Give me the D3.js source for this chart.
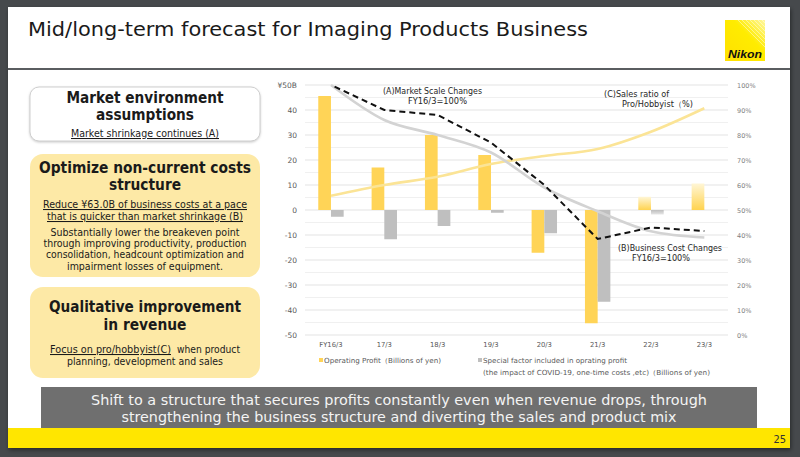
<!DOCTYPE html>
<html>
<head>
<meta charset="utf-8">
<script src="https://cdn.jsdelivr.net/npm/d3@7"></script>
<style>
  html, body { margin: 0; padding: 0; background: #46494c; }
  svg { display: block; }
</style>
</head>
<body>
<svg id="c" width="800" height="457"></svg>
<script>
// ---------------- DATA ----------------
const categories = ["FY16/3", "17/3", "18/3", "19/3", "20/3", "21/3", "22/3", "23/3"];
const operatingProfit = [45.6, 17, 30, 22, -17.1, -45.3, 5.3, 10.6];     // Billions of yen
const specialFactor  = [-2.7, -11.7, -6.4, -1.1, -9.3, -36.7, -1.8, 0];   // Billions of yen
const marketScale    = [100, 86, 80, 73, 59, 49.5, 41.5, 39];             // % (FY16/3=100)
const businessCost   = [100, 90, 88, 77, 60, 38.4, 43, 41.6];             // % (FY16/3=100)
const proRatio       = [55.7, 60, 63.3, 68.4, 71.6, 74.4, 81.3, 90.7];    // %
const forecastCats   = ["22/3", "23/3"];
const leftTicks  = [50, 40, 30, 20, 10, 0, -10, -20, -30, -40, -50];
const leftTickLabels = ["¥50B", "40", "30", "20", "10", "0", "-10", "-20", "-30", "-40", "-50"];
const rightTicks = [100, 90, 80, 70, 60, 50, 40, 30, 20, 10, 0];

// ---------------- SETUP ----------------
const svg = d3.select("#c");
const FONT = "'DejaVu Sans', Verdana, sans-serif";
const COND = "'DejaVu Sans Condensed', 'DejaVu Sans', sans-serif";

const defs = svg.append("defs");
const shadow = defs.append("filter").attr("id", "sh").attr("x", "-5%").attr("y", "-5%").attr("width", "110%").attr("height", "115%");
shadow.append("feDropShadow").attr("dx", 1).attr("dy", 2).attr("stdDeviation", 2).attr("flood-color", "#000").attr("flood-opacity", 0.45);
const boxSh = defs.append("filter").attr("id", "bsh").attr("x", "-5%").attr("y", "-5%").attr("width", "110%").attr("height", "115%");
boxSh.append("feDropShadow").attr("dx", 0).attr("dy", 1).attr("stdDeviation", 1).attr("flood-color", "#999").attr("flood-opacity", 0.5);

const gY = defs.append("linearGradient").attr("id", "gY").attr("x1", 0).attr("y1", 0).attr("x2", 0).attr("y2", 1);
gY.append("stop").attr("offset", "0%").attr("stop-color", "#fff6d6");
gY.append("stop").attr("offset", "100%").attr("stop-color", "#ffd34f");
const gG = defs.append("linearGradient").attr("id", "gG").attr("x1", 0).attr("y1", 0).attr("x2", 0).attr("y2", 1);
gG.append("stop").attr("offset", "0%").attr("stop-color", "#bdbdbd");
gG.append("stop").attr("offset", "100%").attr("stop-color", "#e6e6e6");
const gLogo = defs.append("linearGradient").attr("id", "gL").attr("x1", 0).attr("y1", 1).attr("x2", 1).attr("y2", 0);
gLogo.append("stop").attr("offset", "0%").attr("stop-color", "#ffe000");
gLogo.append("stop").attr("offset", "60%").attr("stop-color", "#ffec00");
gLogo.append("stop").attr("offset", "100%").attr("stop-color", "#fff7a0");

// slide
svg.append("rect").attr("x", 8).attr("y", 7).attr("width", 782).attr("height", 441)
  .attr("fill", "#ffffff").attr("filter", "url(#sh)");

// title
svg.append("text").attr("x", 28).attr("y", 36).attr("font-family", COND).attr("font-size", 20)
  .attr("fill", "#1a1a1a").attr("textLength", 560).attr("lengthAdjust", "spacingAndGlyphs")
  .text("Mid/long-term forecast for Imaging Products Business");

// header rule
svg.append("rect").attr("x", 8).attr("y", 68).attr("width", 782).attr("height", 2).attr("fill", "#5a5d60");

// Nikon logo
const logo = svg.append("g");
logo.append("rect").attr("x", 725).attr("y", 20).attr("width", 40).attr("height", 41).attr("fill", "url(#gL)");
for (let i = 0; i < 7; i++) {
  logo.append("line").attr("x1", 738 + i * 4).attr("y1", 20).attr("x2", 765).attr("y2", 47 - i * 4)
    .attr("stroke", "#ffffff").attr("stroke-opacity", 0.55).attr("stroke-width", 0.8);
}
logo.append("text").attr("x", 745).attr("y", 58).attr("text-anchor", "middle")
  .attr("font-family", "'Liberation Sans', Arial, sans-serif").attr("font-weight", "bold").attr("font-style", "italic")
  .attr("font-size", 10).attr("fill", "#111").attr("textLength", 34).attr("lengthAdjust", "spacingAndGlyphs").text("Nikon");

// ---------------- LEFT BOXES ----------------
svg.append("rect").attr("x", 30).attr("y", 87).attr("width", 230).attr("height", 54).attr("rx", 9)
  .attr("fill", "#ffffff").attr("stroke", "#cfcfcf").attr("stroke-width", 1).attr("filter", "url(#bsh)");
svg.append("rect").attr("x", 30).attr("y", 154).attr("width", 230).attr("height", 123).attr("rx", 13)
  .attr("fill", "#fde9a6");
svg.append("rect").attr("x", 30).attr("y", 287).attr("width", 230).attr("height", 91).attr("rx", 13)
  .attr("fill", "#fde9a6");

function line(y, s, size, len, bold, underline) {
  const t = svg.append("text").attr("x", 145).attr("y", y).attr("text-anchor", "middle")
    .attr("font-family", FONT).attr("font-size", size).attr("fill", "#1a1a1a")
    .attr("font-weight", bold ? "bold" : "normal")
    .attr("textLength", len).attr("lengthAdjust", "spacingAndGlyphs").text(s);
  if (underline) t.attr("text-decoration", "underline");
}
line(103, "Market environment", 15.5, 157, true);
line(120, "assumptions", 15.5, 98, true);
line(137, "Market shrinkage continues (A)", 10.5, 148, false, true);

line(173, "Optimize non-current costs", 15.5, 212, true);
line(190, "structure", 15.5, 72, true);
line(208, "Reduce ¥63.0B of business costs at a pace", 10.5, 204, false, true);
line(220, "that is quicker than market shrinkage (B)", 10.5, 196, false, true);
line(236, "Substantially lower the breakeven point", 10.5, 189);
line(247, "through improving productivity, production", 10.5, 203);
line(258, "consolidation, headcount optimization and", 10.5, 198);
line(270, "impairment losses of equipment.", 10.5, 156);

line(312, "Qualitative improvement", 15.5, 192, true);
line(330, "in revenue", 15.5, 83, true);
svg.append("text").attr("x", 50).attr("y", 353).attr("font-family", FONT).attr("font-size", 10.5)
  .attr("fill", "#1a1a1a").attr("text-decoration", "underline")
  .attr("textLength", 121).attr("lengthAdjust", "spacingAndGlyphs").text("Focus on pro/hobbyist(C)");
svg.append("text").attr("x", 177).attr("y", 353).attr("font-family", FONT).attr("font-size", 10.5)
  .attr("fill", "#1a1a1a")
  .attr("textLength", 63).attr("lengthAdjust", "spacingAndGlyphs").text("when product");
line(365, "planning, development and sales", 10.5, 156);

// ---------------- CHART ----------------
const yL = d3.scaleLinear().domain([-50, 50]).range([335, 85]);
const yR = d3.scaleLinear().domain([0, 100]).range([335, 85]);
const xC = d3.scalePoint().domain(categories).range([304.3, 731]).padding(0.5);
const barW = 12.7;
const gridX0 = 305, gridX1 = 728;

// gridlines every 5
const gridVals = d3.range(-50, 50.01, 5);
svg.append("g").selectAll("line").data(gridVals).join("line")
  .attr("x1", gridX0).attr("x2", gridX1)
  .attr("y1", d => yL(d)).attr("y2", d => yL(d))
  .attr("stroke", d => d % 10 === 0 ? "#dcdcdc" : "#ececec").attr("stroke-width", 0.8);

// left axis
const axL = svg.append("g").attr("transform", `translate(${gridX0},0)`)
  .call(d3.axisLeft(yL).tickValues(leftTicks).tickSize(0).tickPadding(8)
    .tickFormat((d, i) => leftTickLabels[i]));
axL.select(".domain").remove();
axL.selectAll("text").attr("font-family", FONT).attr("font-size", 7.5).attr("fill", "#595959");

// right axis
const axR = svg.append("g").attr("transform", `translate(${gridX1},0)`)
  .call(d3.axisRight(yR).tickValues(rightTicks).tickSize(0).tickPadding(9).tickFormat(d => d + "%"));
axR.select(".domain").remove();
axR.selectAll("text").attr("font-family", FONT).attr("font-size", 6.5).attr("fill", "#7f7f7f");

// x labels
svg.append("g").selectAll("text").data(categories).join("text")
  .attr("x", d => xC(d)).attr("y", 347).attr("text-anchor", "middle")
  .attr("font-family", FONT).attr("font-size", 6.8).attr("fill", "#595959").text(d => d);

// bars
const isF = c => forecastCats.includes(c);
svg.append("g").selectAll("rect").data(categories).join("rect")
  .attr("x", d => xC(d) - barW)
  .attr("y", (d, i) => yL(Math.max(0, operatingProfit[i])))
  .attr("width", barW)
  .attr("height", (d, i) => Math.abs(yL(operatingProfit[i]) - yL(0)))
  .attr("fill", d => isF(d) ? "url(#gY)" : "#ffd457");
svg.append("g").selectAll("rect").data(categories).join("rect")
  .attr("x", d => xC(d))
  .attr("y", (d, i) => yL(Math.max(0, specialFactor[i])))
  .attr("width", barW)
  .attr("height", (d, i) => Math.abs(yL(specialFactor[i]) - yL(0)))
  .attr("fill", d => isF(d) ? "url(#gG)" : "#bfbfbf");

// lines
const mk = (arr, curve) => d3.line().x((d, i) => xC(categories[i])).y(d => yR(d)).curve(curve)(arr);
svg.append("path").attr("d", mk(proRatio, d3.curveMonotoneX)).attr("fill", "none")
  .attr("stroke", "#fbe496").attr("stroke-width", 2.6);
svg.append("path").attr("d", mk(marketScale, d3.curveMonotoneX)).attr("fill", "none")
  .attr("stroke", "#d3d3d3").attr("stroke-width", 2.6);
svg.append("path").attr("d", mk(businessCost, d3.curveLinear)).attr("fill", "none")
  .attr("stroke", "#111111").attr("stroke-width", 2).attr("stroke-dasharray", "6,4").attr("stroke-dashoffset", -4);

// annotations
function ann(x, y, s, len) {
  svg.append("text").attr("x", x).attr("y", y).attr("font-family", FONT).attr("font-size", 8)
    .attr("fill", "#262626").attr("textLength", len).attr("lengthAdjust", "spacingAndGlyphs").text(s);
}
ann(383, 94, "(A)Market Scale Changes", 99);
ann(408, 103.5, "FY16/3=100%", 59);
ann(604, 97, "(C)Sales ratio of", 65);
ann(622, 107, "Pro/Hobbyist（%)", 71);
ann(618, 251, "(B)Business Cost Changes", 104);
ann(632, 260.5, "FY16/3=100%", 58);

// legend
svg.append("rect").attr("x", 319).attr("y", 358).attr("width", 4).attr("height", 4).attr("fill", "#ffd457");
svg.append("rect").attr("x", 478).attr("y", 358).attr("width", 4).attr("height", 4).attr("fill", "#bfbfbf");
function leg(x, y, s, len) {
  svg.append("text").attr("x", x).attr("y", y).attr("font-family", FONT).attr("font-size", 7)
    .attr("fill", "#595959").attr("textLength", len).attr("lengthAdjust", "spacingAndGlyphs").text(s);
}
leg(324, 363, "Operating Profit（Billions of yen)", 117);
leg(483, 363, "Special factor included in oprating profit", 144);
leg(483, 375, "(the impact of COVID-19, one-time costs ,etc)（Billions of yen)", 227);

// ---------------- BOTTOM ----------------
svg.append("rect").attr("x", 41).attr("y", 387).attr("width", 716).attr("height", 41).attr("fill", "#6f6f6f");
svg.append("text").attr("x", 399).attr("y", 404.5).attr("text-anchor", "middle").attr("font-family", COND)
  .attr("font-size", 14).attr("fill", "#f4f4f4").attr("textLength", 616).attr("lengthAdjust", "spacingAndGlyphs")
  .text("Shift to a structure that secures profits constantly even when revenue drops, through");
svg.append("text").attr("x", 399).attr("y", 421.5).attr("text-anchor", "middle").attr("font-family", COND)
  .attr("font-size", 14).attr("fill", "#f4f4f4").attr("textLength", 555).attr("lengthAdjust", "spacingAndGlyphs")
  .text("strengthening the business structure and diverting the sales and product mix");

svg.append("rect").attr("x", 8).attr("y", 428).attr("width", 782).attr("height", 20).attr("fill", "#ffe600");
svg.append("text").attr("x", 786).attr("y", 443).attr("text-anchor", "end").attr("font-family", COND)
  .attr("font-size", 11).attr("fill", "#333").text("25");
</script>
</body>
</html>
